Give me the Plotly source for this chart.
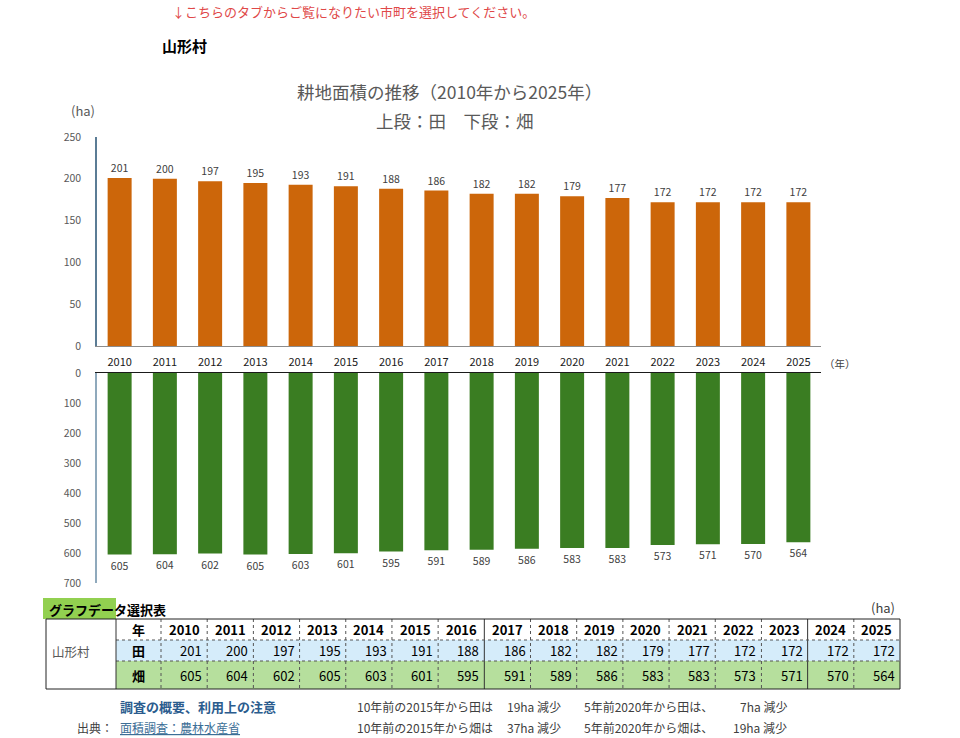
import plotly.graph_objects as go

# ---------------- data ----------------
years = [str(y) for y in range(2010, 2026)]
ta = [201, 200, 197, 195, 193, 191, 188, 186, 182, 182, 179, 177, 172, 172, 172, 172]
hata = [605, 604, 602, 605, 603, 601, 595, 591, 589, 586, 583, 583, 573, 571, 570, 564]
top_ticks = [0, 50, 100, 150, 200, 250]
bot_ticks = [0, 100, 200, 300, 400, 500, 600, 700]
municipality = "山形村"
row_labels = ["年", "田", "畑"]

W, H = 960, 738
JP = "Noto Sans CJK JP, Noto Sans, sans-serif"
ORANGE = "#CC660A"
GREEN = "#3A7D22"


def px(x):
    return x / W


def py(y):
    return 1 - y / H


fig = go.Figure()
fig.add_trace(go.Bar(
    x=years, y=ta, xaxis="x", yaxis="y",
    marker=dict(color=ORANGE, line=dict(width=0)),
    text=ta, textposition="outside", cliponaxis=False, constraintext="none",
    textfont=dict(size=10.5, color="#404040", family=JP),
    hoverinfo="skip", showlegend=False,
))
fig.add_trace(go.Bar(
    x=years, y=hata, xaxis="x2", yaxis="y2",
    marker=dict(color=GREEN, line=dict(width=0)),
    text=hata, textposition="outside", cliponaxis=False, constraintext="none",
    textfont=dict(size=10.5, color="#404040", family=JP),
    hoverinfo="skip", showlegend=False,
))

xdom = [px(97), px(821)]
fig.update_layout(
    width=W, height=H,
    margin=dict(l=0, r=0, t=0, b=0, autoexpand=False),
    paper_bgcolor="white", plot_bgcolor="rgba(0,0,0,0)",
    bargap=0.47,
    font=dict(family=JP),
    xaxis=dict(domain=xdom, anchor="y", type="category", range=[-0.5, 15.5],
               showline=True, linecolor="#8c8c8c", linewidth=1, ticks="",
               showgrid=False, zeroline=False, automargin=False,
               tickfont=dict(size=11, color="#1a1a1a", family=JP),
               ticklabelstandoff=6),
    yaxis=dict(domain=[py(346), py(137)], anchor="x", range=[0, 250],
               tickvals=top_ticks, showline=True, linecolor="#5b7c95", linewidth=1.5,
               showgrid=False, zeroline=False, ticks="", automargin=False,
               tickfont=dict(size=10.5, color="#595959", family=JP),
               ticklabelstandoff=12),
    xaxis2=dict(domain=xdom, anchor="y2", type="category", range=[-0.5, 15.5],
                side="top", showline=True, linecolor="#1a1a1a", linewidth=1,
                showticklabels=False, ticks="", showgrid=False, zeroline=False,
                automargin=False),
    yaxis2=dict(domain=[py(583), py(373)], anchor="x2", range=[700, 0],
                tickvals=bot_ticks, showline=True, linecolor="#8fa9bc", linewidth=1.5,
                showgrid=False, zeroline=False, ticks="", automargin=False,
                tickfont=dict(size=10.5, color="#595959", family=JP),
                ticklabelstandoff=12),
)

ann = []
shapes = []


def txt(x, y, s, size=12, color="#404040", anchor="left", bold=False, va="middle"):
    if bold:
        s = "<b>" + s + "</b>"
    ann.append(dict(x=px(x), y=py(y), xref="paper", yref="paper", text=s,
                    showarrow=False, xanchor=anchor, yanchor=va,
                    font=dict(size=size, color=color, family=JP)))


# header texts
txt(170, 11, "↓こちらのタブからご覧になりたい市町を選択してください。", 13, "#E04848")
txt(160, 45, municipality, 15, "#000000", bold=True)
txt(449, 91, "耕地面積の推移（2010年から2025年）", 17.5, "#595959", "center")
txt(455, 121, "上段：田　下段：畑", 17.5, "#595959", "center")
txt(83, 111, "(ha)", 13, "#595959", "center")
txt(822, 363, "（年）", 10.5, "#404040")

# in-bar labels
ann.append(dict(x=years[-1], y=125, xref="x", yref="y", text="<b>田</b>", showarrow=False,
                font=dict(size=14, color="white", family=JP)))
ann.append(dict(x=years[-1], y=287, xref="x2", yref="y2", text="<b>畑</b>", showarrow=False,
                font=dict(size=14, color="white", family=JP)))

# ---------------- table ----------------
T_L, T_LBL, T_Y0, T_R = 46, 116, 161, 900
rows_y = [619, 640, 661, 689]
cw = (T_R - T_Y0) / len(years)

shapes.append(dict(type="rect", xref="paper", yref="paper", x0=px(43), x1=px(116),
                   y0=py(619), y1=py(598), fillcolor="#92D050", line=dict(width=0), layer="below"))
shapes.append(dict(type="rect", xref="paper", yref="paper", x0=px(T_LBL), x1=px(T_R),
                   y0=py(rows_y[2]), y1=py(rows_y[1]), fillcolor="#D5ECFA", line=dict(width=0), layer="below"))
shapes.append(dict(type="rect", xref="paper", yref="paper", x0=px(T_LBL), x1=px(T_R),
                   y0=py(rows_y[3]), y1=py(rows_y[2]), fillcolor="#B6DF9D", line=dict(width=0), layer="below"))


def line(x0, y0, x1, y1, color="#333333", dash="solid", w=1):
    shapes.append(dict(type="line", xref="paper", yref="paper", x0=px(x0), y0=py(y0),
                       x1=px(x1), y1=py(y1), line=dict(color=color, width=w, dash=dash)))


for i in range(len(years)):
    xx = T_Y0 + i * cw
    solid = i in (7, 14)
    line(xx, rows_y[0], xx, rows_y[3], "#333333" if solid else "#555555", "solid" if solid else "dot")
line(T_LBL, rows_y[1], T_R, rows_y[1], "#555555", "dot")
line(T_LBL, rows_y[2], T_R, rows_y[2], "#555555", "dot")
line(T_LBL, rows_y[0], T_LBL, rows_y[3], "#333333")
shapes.append(dict(type="rect", xref="paper", yref="paper", x0=px(T_L), x1=px(T_R),
                   y0=py(rows_y[3]), y1=py(rows_y[0]), line=dict(color="#222222", width=1)))

txt(47, 609, "グラフデータ選択表", 13, "#000000", bold=True)
txt(897, 607, "(ha)", 13, "#404040", "right")
txt(50, 651, municipality, 12.5, "#595959")
for r, lab in enumerate(row_labels):
    cy = (rows_y[r] + rows_y[r + 1]) / 2
    txt((T_LBL + T_Y0) / 2, cy, lab, 13, "#000000", "center", bold=True)
for i, yv in enumerate(years):
    x0 = T_Y0 + i * cw
    txt(x0 + cw / 2, (rows_y[0] + rows_y[1]) / 2, yv, 13, "#000000", "center", bold=True)
    txt(x0 + cw - 3, (rows_y[1] + rows_y[2]) / 2, str(ta[i]), 13, "#000000", "right")
    txt(x0 + cw - 3, (rows_y[2] + rows_y[3]) / 2, str(hata[i]), 13, "#000000", "right")

# ---------------- footer ----------------
i2015, i2020 = years.index("2015"), years.index("2020")
d10_ta = ta[i2015] - ta[-1]
d10_ha = hata[i2015] - hata[-1]
d5_ta = ta[i2020] - ta[-1]
d5_ha = hata[i2020] - hata[-1]

txt(118, 706, "調査の概要、利用上の注意", 13, "#2B5C8E", bold=True)
txt(75, 727, "出典：", 12, "#404040")
txt(118, 727, "<u>面積調査：農林水産省</u>", 12, "#3C6E96")
txt(355, 706, "10年前の2015年から田は", 12, "#404040")
txt(355, 727, "10年前の2015年から畑は", 12, "#404040")
txt(563, 706, f"{d10_ta}ha 減少", 12, "#404040", "right")
txt(563, 727, f"{d10_ha}ha 減少", 12, "#404040", "right")
txt(582, 706, "5年前2020年から田は、", 12, "#404040")
txt(582, 727, "5年前2020年から畑は、", 12, "#404040")
txt(789, 706, f"{d5_ta}ha 減少", 12, "#404040", "right")
txt(789, 727, f"{d5_ha}ha 減少", 12, "#404040", "right")

fig.update_layout(annotations=ann, shapes=shapes)
fig.write_html("out.html")
